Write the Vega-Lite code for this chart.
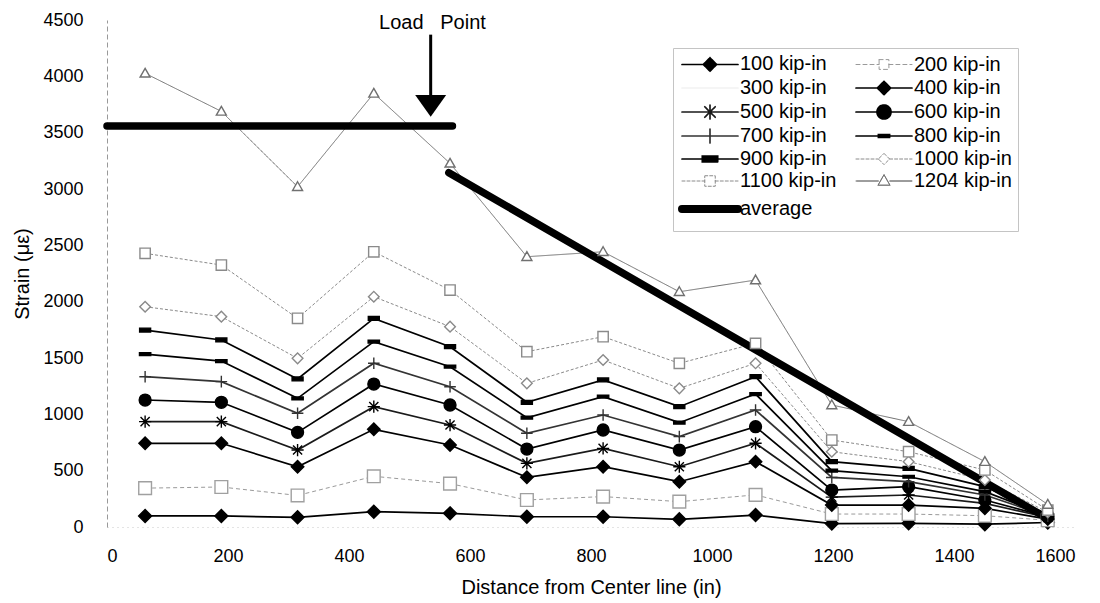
{
  "$schema": "https://vega.github.io/schema/vega-lite/v6.json",
  "width": 968,
  "height": 507,
  "autosize": "none",
  "padding": {"left": 107, "top": 20, "right": 25, "bottom": 76},
  "background": "white",
  "config": {
    "view": {"stroke": null},
    "font": "Liberation Sans",
    "axis": {"grid": false, "labelFont": "Liberation Sans", "titleFont": "Liberation Sans", "labelColor": "#000", "titleColor": "#000", "titleFontWeight": "normal"}
  },
  "datasets": {
    "strain": [
      {"s": "100 kip-in", "x": 63, "y": 98}, {"s": "100 kip-in", "x": 189, "y": 98}, {"s": "100 kip-in", "x": 315, "y": 86}, {"s": "100 kip-in", "x": 441, "y": 136}, {"s": "100 kip-in", "x": 567, "y": 121}, {"s": "100 kip-in", "x": 694, "y": 91}, {"s": "100 kip-in", "x": 820, "y": 91}, {"s": "100 kip-in", "x": 946, "y": 68}, {"s": "100 kip-in", "x": 1072, "y": 106}, {"s": "100 kip-in", "x": 1198, "y": 30}, {"s": "100 kip-in", "x": 1325, "y": 33}, {"s": "100 kip-in", "x": 1451, "y": 25}, {"s": "100 kip-in", "x": 1555, "y": 40},
      {"s": "200 kip-in", "x": 63, "y": 345}, {"s": "200 kip-in", "x": 189, "y": 355}, {"s": "200 kip-in", "x": 315, "y": 280}, {"s": "200 kip-in", "x": 441, "y": 450}, {"s": "200 kip-in", "x": 567, "y": 385}, {"s": "200 kip-in", "x": 694, "y": 240}, {"s": "200 kip-in", "x": 820, "y": 270}, {"s": "200 kip-in", "x": 946, "y": 225}, {"s": "200 kip-in", "x": 1072, "y": 285}, {"s": "200 kip-in", "x": 1198, "y": 115}, {"s": "200 kip-in", "x": 1325, "y": 115}, {"s": "200 kip-in", "x": 1451, "y": 100}, {"s": "200 kip-in", "x": 1555, "y": 60},
      {"s": "400 kip-in", "x": 63, "y": 743}, {"s": "400 kip-in", "x": 189, "y": 743}, {"s": "400 kip-in", "x": 315, "y": 535}, {"s": "400 kip-in", "x": 441, "y": 867}, {"s": "400 kip-in", "x": 567, "y": 728}, {"s": "400 kip-in", "x": 694, "y": 441}, {"s": "400 kip-in", "x": 820, "y": 535}, {"s": "400 kip-in", "x": 946, "y": 402}, {"s": "400 kip-in", "x": 1072, "y": 580}, {"s": "400 kip-in", "x": 1198, "y": 195}, {"s": "400 kip-in", "x": 1325, "y": 195}, {"s": "400 kip-in", "x": 1451, "y": 166}, {"s": "400 kip-in", "x": 1555, "y": 70},
      {"s": "500 kip-in", "x": 63, "y": 935}, {"s": "500 kip-in", "x": 189, "y": 935}, {"s": "500 kip-in", "x": 315, "y": 683}, {"s": "500 kip-in", "x": 441, "y": 1068}, {"s": "500 kip-in", "x": 567, "y": 905}, {"s": "500 kip-in", "x": 694, "y": 565}, {"s": "500 kip-in", "x": 820, "y": 698}, {"s": "500 kip-in", "x": 946, "y": 535}, {"s": "500 kip-in", "x": 1072, "y": 743}, {"s": "500 kip-in", "x": 1198, "y": 265}, {"s": "500 kip-in", "x": 1325, "y": 284}, {"s": "500 kip-in", "x": 1451, "y": 210}, {"s": "500 kip-in", "x": 1555, "y": 85},
      {"s": "600 kip-in", "x": 63, "y": 1127}, {"s": "600 kip-in", "x": 189, "y": 1107}, {"s": "600 kip-in", "x": 315, "y": 840}, {"s": "600 kip-in", "x": 441, "y": 1269}, {"s": "600 kip-in", "x": 567, "y": 1083}, {"s": "600 kip-in", "x": 694, "y": 692}, {"s": "600 kip-in", "x": 820, "y": 861}, {"s": "600 kip-in", "x": 946, "y": 683}, {"s": "600 kip-in", "x": 1072, "y": 890}, {"s": "600 kip-in", "x": 1198, "y": 328}, {"s": "600 kip-in", "x": 1325, "y": 358}, {"s": "600 kip-in", "x": 1451, "y": 240}, {"s": "600 kip-in", "x": 1555, "y": 90},
      {"s": "700 kip-in", "x": 63, "y": 1334}, {"s": "700 kip-in", "x": 189, "y": 1290}, {"s": "700 kip-in", "x": 315, "y": 1009}, {"s": "700 kip-in", "x": 441, "y": 1453}, {"s": "700 kip-in", "x": 567, "y": 1245}, {"s": "700 kip-in", "x": 694, "y": 832}, {"s": "700 kip-in", "x": 820, "y": 994}, {"s": "700 kip-in", "x": 946, "y": 802}, {"s": "700 kip-in", "x": 1072, "y": 1038}, {"s": "700 kip-in", "x": 1198, "y": 440}, {"s": "700 kip-in", "x": 1325, "y": 402}, {"s": "700 kip-in", "x": 1451, "y": 284}, {"s": "700 kip-in", "x": 1555, "y": 95},
      {"s": "800 kip-in", "x": 63, "y": 1535}, {"s": "800 kip-in", "x": 189, "y": 1473}, {"s": "800 kip-in", "x": 315, "y": 1142}, {"s": "800 kip-in", "x": 441, "y": 1645}, {"s": "800 kip-in", "x": 567, "y": 1423}, {"s": "800 kip-in", "x": 694, "y": 970}, {"s": "800 kip-in", "x": 820, "y": 1157}, {"s": "800 kip-in", "x": 946, "y": 926}, {"s": "800 kip-in", "x": 1072, "y": 1180}, {"s": "800 kip-in", "x": 1198, "y": 500}, {"s": "800 kip-in", "x": 1325, "y": 446}, {"s": "800 kip-in", "x": 1451, "y": 314}, {"s": "800 kip-in", "x": 1555, "y": 100},
      {"s": "900 kip-in", "x": 63, "y": 1748}, {"s": "900 kip-in", "x": 189, "y": 1660}, {"s": "900 kip-in", "x": 315, "y": 1314}, {"s": "900 kip-in", "x": 441, "y": 1852}, {"s": "900 kip-in", "x": 567, "y": 1600}, {"s": "900 kip-in", "x": 694, "y": 1107}, {"s": "900 kip-in", "x": 820, "y": 1305}, {"s": "900 kip-in", "x": 946, "y": 1068}, {"s": "900 kip-in", "x": 1072, "y": 1334}, {"s": "900 kip-in", "x": 1198, "y": 580}, {"s": "900 kip-in", "x": 1325, "y": 521}, {"s": "900 kip-in", "x": 1451, "y": 358}, {"s": "900 kip-in", "x": 1555, "y": 110},
      {"s": "1000 kip-in", "x": 63, "y": 1955}, {"s": "1000 kip-in", "x": 189, "y": 1867}, {"s": "1000 kip-in", "x": 315, "y": 1497}, {"s": "1000 kip-in", "x": 441, "y": 2044}, {"s": "1000 kip-in", "x": 567, "y": 1778}, {"s": "1000 kip-in", "x": 694, "y": 1275}, {"s": "1000 kip-in", "x": 820, "y": 1482}, {"s": "1000 kip-in", "x": 946, "y": 1231}, {"s": "1000 kip-in", "x": 1072, "y": 1453}, {"s": "1000 kip-in", "x": 1198, "y": 668}, {"s": "1000 kip-in", "x": 1325, "y": 580}, {"s": "1000 kip-in", "x": 1451, "y": 417}, {"s": "1000 kip-in", "x": 1555, "y": 130},
      {"s": "1100 kip-in", "x": 63, "y": 2429}, {"s": "1100 kip-in", "x": 189, "y": 2325}, {"s": "1100 kip-in", "x": 315, "y": 1852}, {"s": "1100 kip-in", "x": 441, "y": 2443}, {"s": "1100 kip-in", "x": 567, "y": 2103}, {"s": "1100 kip-in", "x": 694, "y": 1556}, {"s": "1100 kip-in", "x": 820, "y": 1689}, {"s": "1100 kip-in", "x": 946, "y": 1453}, {"s": "1100 kip-in", "x": 1072, "y": 1630}, {"s": "1100 kip-in", "x": 1198, "y": 772}, {"s": "1100 kip-in", "x": 1325, "y": 668}, {"s": "1100 kip-in", "x": 1451, "y": 506}, {"s": "1100 kip-in", "x": 1555, "y": 150},
      {"s": "1204 kip-in", "x": 63, "y": 4027}, {"s": "1204 kip-in", "x": 189, "y": 3689}, {"s": "1204 kip-in", "x": 315, "y": 3020}, {"s": "1204 kip-in", "x": 441, "y": 3849}, {"s": "1204 kip-in", "x": 567, "y": 3228}, {"s": "1204 kip-in", "x": 694, "y": 2399}, {"s": "1204 kip-in", "x": 820, "y": 2443}, {"s": "1204 kip-in", "x": 946, "y": 2088}, {"s": "1204 kip-in", "x": 1072, "y": 2192}, {"s": "1204 kip-in", "x": 1198, "y": 1083}, {"s": "1204 kip-in", "x": 1325, "y": 935}, {"s": "1204 kip-in", "x": 1451, "y": 580}, {"s": "1204 kip-in", "x": 1555, "y": 200},
      {"s": "average", "seg": "a", "x": 0, "y": 3559}, {"s": "average", "seg": "a", "x": 571, "y": 3559},
      {"s": "average", "seg": "b", "x": 565, "y": 3145}, {"s": "average", "seg": "b", "x": 1550, "y": 90}
    ]
  },
  "layer": [
    {
      "data": {"name": "strain"},
      "transform": [{"filter": "indexof(['200 kip-in','1000 kip-in','1100 kip-in','1204 kip-in'], datum.s) >= 0"}],
      "mark": {"type": "line", "strokeWidth": 1},
      "encoding": {
        "x": {"field": "x", "type": "quantitative", "scale": {"domain": [0, 1600], "nice": false},
          "axis": {"values": [0, 200, 400, 600, 800, 1000, 1200, 1400, 1600], "format": "d", "ticks": false, "labelFontSize": 18, "labelPadding": 20, "domainColor": "#c8c8c8", "domainDash": [1, 4], "title": "Distance from Center line (in)", "titleFontSize": 20, "titlePadding": 12}},
        "y": {"field": "y", "type": "quantitative", "scale": {"domain": [0, 4500], "nice": false},
          "axis": {"values": [0, 500, 1000, 1500, 2000, 2500, 3000, 3500, 4000, 4500], "format": "d", "ticks": false, "labelFontSize": 18, "labelPadding": 24, "domainColor": "#999", "domainDash": [5, 3], "title": "Strain (με)", "titleFontSize": 20, "titlePadding": 10}},
        "color": {"field": "s", "type": "nominal",
          "scale": {"domain": ["100 kip-in", "200 kip-in", "300 kip-in", "400 kip-in", "500 kip-in", "600 kip-in", "700 kip-in", "800 kip-in", "900 kip-in", "1000 kip-in", "1100 kip-in", "1204 kip-in", "average"],
                    "range": ["#000000", "#9a9a9a", "#f2f2f2", "#000000", "#1a1a1a", "#000000", "#333333", "#000000", "#000000", "#8a8a8a", "#8a8a8a", "#707070", "#000000"]},
          "legend": {
            "title": null, "orient": "none", "legendX": 566, "legendY": 28, "direction": "horizontal", "columns": 2,
            "symbolSize": 196, "symbolOffset": 21, "labelOffset": 20, "labelFontSize": 20, "labelFont": "Liberation Sans", "labelColor": "#000", "labelLimit": 0,
            "rowPadding": 2, "columnPadding": 15, "padding": 6, "strokeColor": "#c4c4c4",
            "encode": {
              "symbols": {"update": {
                "shape": {"signal": "({'100 kip-in':'M-4,0H4M0,-0.95L0.95,0L0,0.95L-0.95,0Z','200 kip-in':'M-4,0H-0.7M0.7,0H4M-0.7,-0.7H0.7V0.7H-0.7Z','300 kip-in':'M-4,0H4','400 kip-in':'M-4,0H4M0,-0.95L0.95,0L0,0.95L-0.95,0Z','500 kip-in':'M-4,0H4M0,-1V1M-0.75,-0.75L0.75,0.75M-0.75,0.75L0.75,-0.75','600 kip-in':'M-4,0H4M-1,0A1,1,0,1,1,1,0A1,1,0,1,1,-1,0Z','700 kip-in':'M-4,0H4M0,-1V1','800 kip-in':'M-4,0H4M-0.8,-0.2H0.8V0.2H-0.8Z','900 kip-in':'M-4,0H4M-1.1,-0.4H1.1V0.4H-1.1Z','1000 kip-in':'M-4,0H-0.8M0.8,0H4M0,-0.8L0.8,0L0,0.8L-0.8,0Z','1100 kip-in':'M-4,0H-0.75M0.75,0H4M-0.75,-0.75H0.75V0.75H-0.75Z','1204 kip-in':'M-4,0H-0.8M0.8,0H4M0,-0.9L0.85,0.6H-0.85Z','average':'M-4,0H4'})[datum.value]"},
                "fill": {"signal": "({'100 kip-in':'#000','200 kip-in':'#fff','300 kip-in':'transparent','400 kip-in':'#000','500 kip-in':'transparent','600 kip-in':'#000','700 kip-in':'transparent','800 kip-in':'#000','900 kip-in':'#000','1000 kip-in':'#fff','1100 kip-in':'#fff','1204 kip-in':'#fff','average':'transparent'})[datum.value]"},
                "strokeWidth": {"signal": "datum.value === 'average' ? 8 : (indexof(['200 kip-in','1000 kip-in','1100 kip-in','1204 kip-in'], datum.value) >= 0 ? 1 : 1.7)"},
                "strokeDash": {"signal": "(datum.value === '200 kip-in' || datum.value === '1000 kip-in' || datum.value === '1100 kip-in') ? [3, 2] : [1, 0]"},
                "strokeCap": {"value": "round"},
                "opacity": {"value": 1}
              }}
            }
          }},
        "strokeDash": {"field": "s", "type": "nominal", "legend": null,
          "scale": {"domain": ["100 kip-in", "200 kip-in", "300 kip-in", "400 kip-in", "500 kip-in", "600 kip-in", "700 kip-in", "800 kip-in", "900 kip-in", "1000 kip-in", "1100 kip-in", "1204 kip-in", "average"],
                    "range": [[1, 0], [4, 3], [1, 0], [1, 0], [1, 0], [1, 0], [1, 0], [1, 0], [1, 0], [3, 2], [3, 2], [1, 0], [1, 0]]}}
      }
    },
    {
      "data": {"name": "strain"},
      "transform": [{"filter": "indexof(['100 kip-in','400 kip-in','500 kip-in','600 kip-in','700 kip-in','800 kip-in','900 kip-in'], datum.s) >= 0"}],
      "mark": {"type": "line", "strokeWidth": 1.7},
      "encoding": {
        "x": {"field": "x", "type": "quantitative"},
        "y": {"field": "y", "type": "quantitative"},
        "color": {"field": "s", "type": "nominal"}
      }
    },
    {
      "data": {"name": "strain"},
      "transform": [{"filter": "datum.s === 'average'"}],
      "mark": {"type": "line", "strokeWidth": 7.5, "strokeCap": "round"},
      "encoding": {
        "x": {"field": "x", "type": "quantitative"},
        "y": {"field": "y", "type": "quantitative"},
        "detail": {"field": "seg"},
        "color": {"field": "s", "type": "nominal"}
      }
    },
    {
      "data": {"name": "strain"},
      "transform": [{"filter": "datum.s !== 'average'"}],
      "mark": {"type": "point", "strokeWidth": 1.4, "opacity": 1},
      "encoding": {
        "x": {"field": "x", "type": "quantitative"},
        "y": {"field": "y", "type": "quantitative"},
        "shape": {"field": "s", "type": "nominal", "legend": null,
          "scale": {"domain": ["100 kip-in", "200 kip-in", "400 kip-in", "500 kip-in", "600 kip-in", "700 kip-in", "800 kip-in", "900 kip-in", "1000 kip-in", "1100 kip-in", "1204 kip-in"],
                    "range": ["M0,-1L1,0L0,1L-1,0Z", "M-1,-1H1V1H-1Z", "M0,-1L1,0L0,1L-1,0Z", "M-1,0H1M0,-1V1M-0.75,-0.75L0.75,0.75M-0.75,0.75L0.75,-0.75", "circle", "M-1,0H1M0,-1V1", "M-1,-0.25H1V0.25H-1Z", "M-1,-0.35H1V0.35H-1Z", "M0,-1L1,0L0,1L-1,0Z", "M-1,-1H1V1H-1Z", "M0,-1L1,0.75H-1Z"]}},
        "size": {"field": "s", "type": "nominal", "legend": null,
          "scale": {"domain": ["100 kip-in", "200 kip-in", "400 kip-in", "500 kip-in", "600 kip-in", "700 kip-in", "800 kip-in", "900 kip-in", "1000 kip-in", "1100 kip-in", "1204 kip-in"],
                    "range": [169, 100, 169, 225, 177, 196, 100, 144, 121, 121, 169]}},
        "fill": {"field": "s", "type": "nominal", "legend": null,
          "scale": {"domain": ["100 kip-in", "200 kip-in", "400 kip-in", "500 kip-in", "600 kip-in", "700 kip-in", "800 kip-in", "900 kip-in", "1000 kip-in", "1100 kip-in", "1204 kip-in"],
                    "range": ["#000000", "#ffffff", "#000000", "#000000", "#000000", "#333333", "#000000", "#000000", "#ffffff", "#ffffff", "#ffffff"]}},
        "stroke": {"field": "s", "type": "nominal", "legend": null,
          "scale": {"domain": ["100 kip-in", "200 kip-in", "400 kip-in", "500 kip-in", "600 kip-in", "700 kip-in", "800 kip-in", "900 kip-in", "1000 kip-in", "1100 kip-in", "1204 kip-in"],
                    "range": ["#000000", "#a0a0a0", "#000000", "#000000", "#000000", "#333333", "#000000", "#000000", "#8a8a8a", "#8a8a8a", "#707070"]}}
      }
    },
    {
      "data": {"values": [{"x": 535, "y": 4370, "y2": 3830}]},
      "mark": {"type": "rule", "color": "#000", "strokeWidth": 3},
      "encoding": {
        "x": {"field": "x", "type": "quantitative"},
        "y": {"field": "y", "type": "quantitative"},
        "y2": {"field": "y2"}
      }
    },
    {
      "data": {"values": [{"x": 535, "y": 3737}]},
      "mark": {"type": "point", "shape": "M-1,-0.7L1,-0.7L0,0.7Z", "size": 961, "filled": true, "color": "#000", "opacity": 1},
      "encoding": {
        "x": {"field": "x", "type": "quantitative"},
        "y": {"field": "y", "type": "quantitative"}
      }
    },
    {
      "data": {"values": [{"x": 538, "y": 4473, "label": "Load\u00a0\u00a0\u00a0Point"}]},
      "mark": {"type": "text", "font": "Liberation Sans", "fontSize": 20, "color": "#000", "align": "center", "baseline": "middle"},
      "encoding": {
        "x": {"field": "x", "type": "quantitative"},
        "y": {"field": "y", "type": "quantitative"},
        "text": {"field": "label"}
      }
    }
  ]
}
